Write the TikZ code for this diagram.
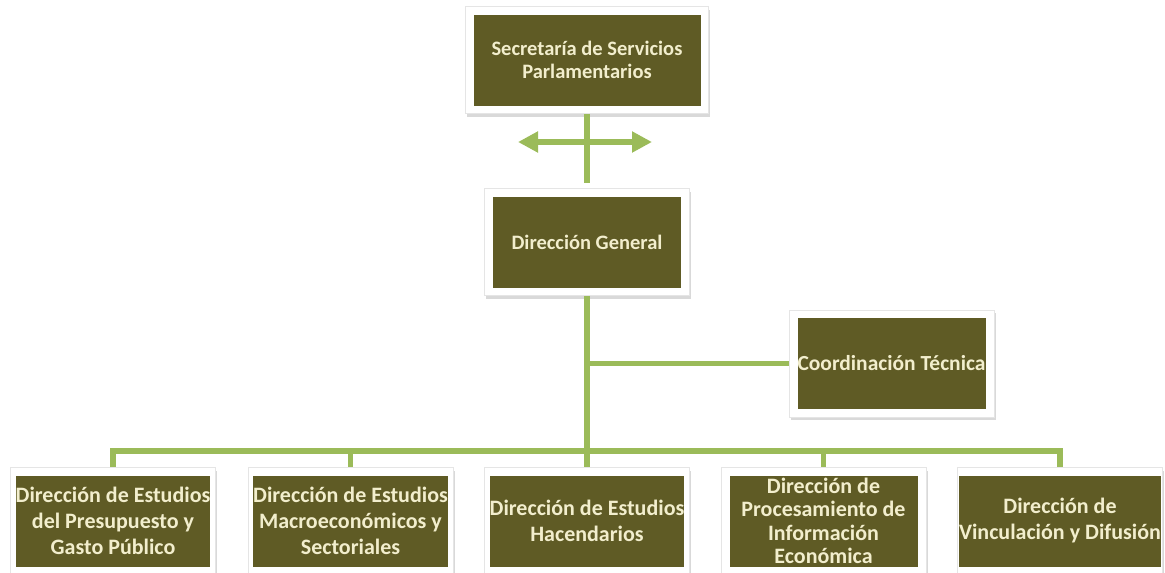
\documentclass[tikz,border=0pt]{standalone}
\usepackage{fontspec}
\setmainfont{Carlito}
\usetikzlibrary{arrows.meta,shadows}
\definecolor{olivebox}{RGB}{95,91,37}
\definecolor{creamtxt}{RGB}{242,238,205}
\definecolor{lgreen}{RGB}{155,187,89}
\begin{document}
\begin{tikzpicture}[x=1pt,y=-1pt,
  frame/.style={fill=white, draw=black!10, line width=0.6pt,
    drop shadow={shadow xshift=1.5pt, shadow yshift=-3pt, opacity=0.3},
    inner sep=0pt, minimum width=205pt, minimum height=107pt},
  box/.style={fill=olivebox, text=creamtxt, align=center, inner sep=0pt,
    minimum width=188pt, minimum height=91pt,
    font=\bfseries\fontsize{20.5}{23}\selectfont},
  lowbox/.style={box, font=\bfseries\fontsize{22}{26}\selectfont},
  link/.style={draw=lgreen, line width=5.5pt},
  bigarrows/.style={>={Triangle[length=20pt,width=20pt]}, <->}
]
\useasboundingbox (0,0) rectangle (1165,573);

% frames
\node[frame, minimum width=243pt] (secF) at (587,60) {};
\node[frame] (dgF) at (587,242) {};
\node[frame] (ctF) at (891.5,363.5) {};
\node[frame] (b1F) at (113,521) {};
\node[frame] (b2F) at (350.5,521) {};
\node[frame] (b3F) at (587,521) {};
\node[frame] (b4F) at (823.5,521) {};
\node[frame] (b5F) at (1060,521) {};

% connectors
\draw[link] (secF.south) -- ([yshift=5pt]dgF.north);
\coordinate (al) at (518,142);
\coordinate (ar) at (652,142);
\draw[link, bigarrows] (al) -- (ar);
\coordinate (bus) at (587,451);
\draw[link] (dgF.south) -- (b3F.north);
\draw[link] (dgF.south |- ctF.west) -- (ctF.west);
\draw[link, line join=miter] (b1F.north) -- (b1F.north |- bus) -- (b5F.north |- bus) -- (b5F.north);
\draw[link] (b2F.north |- bus) -- (b2F.north);
\draw[link] (b4F.north |- bus) -- (b4F.north);

% boxes
\node[box, minimum width=227pt] (sec) at (secF.center) {Secretaría de Servicios\\Parlamentarios};
\node[box] (dg) at (dgF.center) {Dirección General};
\node[box, font=\bfseries\fontsize{21.5}{24}\selectfont] (ct) at (ctF.center) {Coordinación Técnica};
\node[lowbox] (b1) at (b1F.center) {Dirección de Estudios\\del Presupuesto y\\Gasto Público};
\node[lowbox] (b2) at (b2F.center) {Dirección de Estudios\\Macroeconómicos y\\Sectoriales};
\node[lowbox] (b3) at (b3F.center) {Dirección de Estudios\\Hacendarios};
\node[lowbox, font=\bfseries\fontsize{22}{23.5}\selectfont] (b4) at (b4F.center) {Dirección de\\Procesamiento de\\Información\\Económica};
\node[lowbox, minimum width=184pt] (b5) at (b5F.center) {Dirección de\\Vinculación y Difusión};
\end{tikzpicture}
\end{document}
